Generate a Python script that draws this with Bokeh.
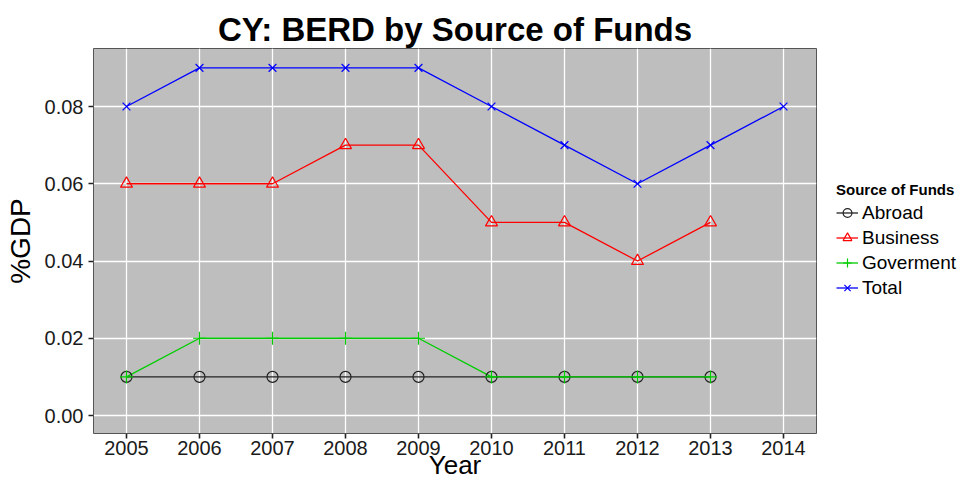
from bokeh.plotting import figure
from bokeh.layouts import row
from bokeh.models import FixedTicker, Range1d, Legend, LegendItem, PrintfTickFormatter
from bokeh.embed import file_html
from bokeh.resources import INLINE

# ---- data ----
years = [2005, 2006, 2007, 2008, 2009, 2010, 2011, 2012, 2013, 2014]
years_to_2013 = [2005, 2006, 2007, 2008, 2009, 2010, 2011, 2012, 2013]
abroad = [0.01, 0.01, 0.01, 0.01, 0.01, 0.01, 0.01, 0.01, 0.01]
business = [0.06, 0.06, 0.06, 0.07, 0.07, 0.05, 0.05, 0.04, 0.05]
government = [0.01, 0.02, 0.02, 0.02, 0.02, 0.01, 0.01, 0.01, 0.01]
total = [0.08, 0.09, 0.09, 0.09, 0.09, 0.08, 0.07, 0.06, 0.07, 0.08]
y_ticks = [0.0, 0.02, 0.04, 0.06, 0.08]
series_names = ["Abroad", "Business", "Goverment", "Total"]

FONT = "Liberation Sans"
H = 483

p = figure(width=818, height=H, output_backend="svg", toolbar_location=None,
           x_range=Range1d(2004.548, 2014.452), y_range=Range1d(-0.004660, 0.09502),
           min_border_left=93, min_border_right=2, min_border_top=48, min_border_bottom=50)

p.title.text = "CY: BERD by Source of Funds"
p.title.text_font = FONT
p.title.text_font_size = "33px"
p.title.text_font_style = "bold"
p.title.align = "center"
p.title.standoff = 2
p.title.text_color = "#000000"

p.background_fill_color = "#BEBEBE"
p.border_fill_color = "white"
p.outline_line_color = "#555555"
p.outline_line_width = 1

p.xgrid.grid_line_color = "white"
p.ygrid.grid_line_color = "white"
p.xgrid.grid_line_width = 1.3
p.ygrid.grid_line_width = 1.3

p.xaxis.ticker = FixedTicker(ticks=years)
p.yaxis.ticker = FixedTicker(ticks=y_ticks)
p.yaxis.formatter = PrintfTickFormatter(format="%.2f")

for ax in (p.xaxis[0], p.yaxis[0]):
    ax.axis_line_color = None
    ax.major_tick_line_color = "#222222"
    ax.major_tick_line_width = 1.6
    ax.major_tick_out = 5
    ax.major_tick_in = 0
    ax.minor_tick_line_color = None
    ax.major_label_text_font = FONT
    ax.major_label_text_font_size = "20px"
    ax.major_label_text_color = "#1a1a1a"
    ax.axis_label_text_font = FONT
    ax.axis_label_text_font_style = "normal"
    ax.axis_label_text_color = "#000000"

p.xaxis.axis_label = "Year"
p.yaxis.axis_label = "%GDP"
p.xaxis.axis_label_text_font_size = "26px"
p.yaxis.axis_label_text_font_size = "28px"
p.xaxis.major_label_standoff = 2
p.xaxis.axis_label_standoff = -8
p.yaxis.major_label_standoff = 5
p.yaxis.axis_label_standoff = 6

colors = ["#222222", "#FF0000", "#00CD00", "#0000FF"]
xs = [years_to_2013, years_to_2013, years_to_2013, years]
ys = [abroad, business, government, total]
markers = ["circle", "triangle", "cross", "x"]
sizes = [11, 12, 13, 11]

for x, y, c in zip(xs, ys, colors):
    p.line(x, y, line_color=c, line_width=1.3)
for x, y, c, m, s in zip(xs, ys, colors, markers, sizes):
    p.scatter(x, y, marker=m, size=s, line_color=c, fill_color=None, line_width=1.2)

# ---- legend panel (series drawn off-range so only the legend shows) ----
lf = figure(width=149, height=H, output_backend="svg", toolbar_location=None,
            x_range=Range1d(0, 1), y_range=Range1d(0, 1),
            x_axis_location=None, y_axis_location=None,
            min_border=0)
lf.grid.visible = False
lf.outline_line_color = None
lf.background_fill_color = "white"
lf.border_fill_color = "white"

items = []
for n, x, y, c, m, s in zip(series_names, xs, ys, colors, markers, sizes):
    lr = lf.line(x, y, line_color=c, line_width=1.3)
    sr = lf.scatter(x, y, marker=m, size=s, line_color=c, fill_color=None, line_width=1.2)
    items.append(LegendItem(label=n, renderers=[lr, sr]))

legend = Legend(items=items, location=(18, 133))
legend.title = "Source of Funds"
legend.title_text_font = FONT
legend.title_text_font_size = "15px"
legend.title_text_font_style = "bold"
legend.title_text_color = "#000000"
legend.title_standoff = 2
legend.label_text_font = FONT
legend.label_text_font_size = "19px"
legend.label_text_color = "#000000"
legend.label_standoff = 4
legend.glyph_width = 22
legend.glyph_height = 25
legend.label_height = 25
legend.spacing = -1
legend.padding = 0
legend.margin = 0
legend.border_line_color = None
legend.background_fill_alpha = 0
lf.add_layout(legend)

layout = row(p, lf, spacing=0)
open("out.html", "w").write(file_html(layout, INLINE))
